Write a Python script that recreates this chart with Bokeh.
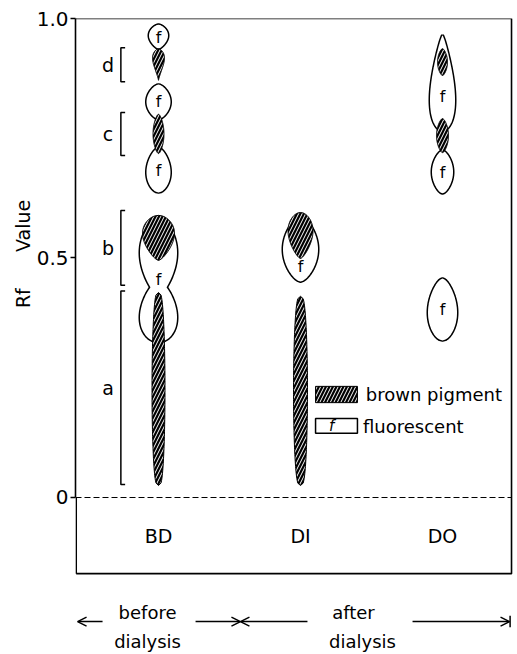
import numpy as np
from bokeh.plotting import figure
from bokeh.models import Range1d, FixedTicker, Arrow, OpenHead, Title
from bokeh.core.properties import value
from bokeh.embed import file_html
from bokeh.resources import INLINE

FONT = "DejaVu Sans"

# lanes (samples)
lanes = ["BD", "DI", "DO"]
lane_pos = {"BD": 1, "DI": 2, "DO": 3}

# fluorescent spots: lane, Rf low, Rf high, spot width (px)
f_lane = ["BD", "BD", "BD", "BD", "BD", "DI", "DO", "DO", "DO"]
f_rf_low = [0.937, 0.790, 0.637, 0.420, 0.325, 0.451, 0.766, 0.635, 0.328]
f_rf_high = [0.987, 0.862, 0.730, 0.585, 0.452, 0.585, 0.965, 0.724, 0.457]
f_width = [19, 24, 24, 37, 37, 35, 25, 21, 29]
f_shape_p = [0.6, 0.6, 0.6, 0.6, 0.6, 0.6, 0.8, 0.6, 0.6]
f_shape_peak = [0.55, 0.5, 0.45, 0.55, 0.4, 0.5, 0.32, 0.5, 0.45]

# "f" marks
f_label_lane = ["BD", "BD", "BD", "BD", "DI", "DO", "DO", "DO"]
f_label_rf = [0.961, 0.826, 0.683, 0.455, 0.482, 0.838, 0.678, 0.392]

# brown pigment spots
h_lane = ["BD", "BD", "BD", "BD", "DI", "DI", "DO", "DO"]
h_rf_low = [0.871, 0.718, 0.495, 0.025, 0.499, 0.025, 0.881, 0.720]
h_rf_high = [0.937, 0.800, 0.589, 0.428, 0.595, 0.420, 0.937, 0.791]
h_width = [12, 11, 32, 13, 25, 14, 10, 12]
h_shape_p = [0.6, 0.6, 0.5, 0.3, 0.5, 0.3, 0.6, 0.6]
h_shape_peak = [0.7, 0.5, 0.6, 0.5, 0.6, 0.5, 0.5, 0.5]

# fraction brackets
frac_labels = ["a", "b", "c", "d"]
frac_rf_low = [0.027, 0.443, 0.714, 0.868]
frac_rf_high = [0.431, 0.599, 0.804, 0.939]

y_ticks = [0, 0.5, 1.0]
y_tick_labels = ["0", "0.5", "1.0"]
y_title = "Rf" + "\u00a0" * 6 + "Value"

PX = 142.0  # pixels per lane unit


def spot(lane, lo, hi, width_px, pw, peak):
    s = np.linspace(0, 1, 80)
    a = np.log(0.5) / np.log(peak)
    w = (width_px / 2.0 / PX) * np.sin(np.pi * s ** a) ** pw
    y = lo + s * (hi - lo)
    x0 = lane_pos[lane]
    xs = np.concatenate([x0 + w, (x0 - w)[::-1]])
    ys = np.concatenate([y, y[::-1]])
    return list(xs), list(ys)


X0, X1 = 0.4155, 3.507
p = figure(width=514, height=652, x_range=Range1d(X0, X1),
           y_range=Range1d(-0.3236, 1.0), output_backend="svg",
           toolbar_location=None, x_axis_location=None,
           min_border_left=75, min_border_right=0, min_border_top=18,
           min_border_bottom=0)
p.grid.visible = False
p.outline_line_color = None
p.background_fill_color = "white"

ax = p.yaxis[0]
ax.ticker = FixedTicker(ticks=y_ticks)
ax.major_label_overrides = {t: l for t, l in zip(y_ticks, y_tick_labels)}
ax.bounds = (0.0, 1.0)
ax.minor_tick_line_color = None
ax.major_tick_in = 0
ax.major_tick_out = 5
ax.axis_line_width = 1.6
ax.axis_line_color = "black"
ax.major_tick_line_width = 1.4
ax.major_tick_line_color = "black"
ax.major_label_text_font = FONT
ax.major_label_text_font_size = "20px"
ax.major_label_text_color = "black"
ax.major_label_standoff = 2

# axis title, padded so that it sits level with the upper half of the axis
p.add_layout(Title(text="\u00a0" * 27 + y_title, align="center",
                   text_font=FONT, text_font_size="19px",
                   text_font_style="normal", text_color="black", standoff=0), "left")

# box (left below zero, top, right, bottom)
XR = 3.486
YB = -0.159
XL = X0 + 0.005
p.line([XL, XL], [0.0, YB], line_color="black", line_width=1.6)
p.line([X0, XR, XR, XL], [1.0, 1.0, YB, YB], line_color="black", line_width=1.6)
p.line([X0, XR], [0, 0], line_dash="6 3", line_color="black", line_width=1.2)

# fluorescent spots: outlines then white fills (union outline)
fx, fy = [], []
for i in range(len(f_lane)):
    xs, ys = spot(f_lane[i], f_rf_low[i], f_rf_high[i], f_width[i], f_shape_p[i], f_shape_peak[i])
    fx.append(xs)
    fy.append(ys)
p.patches(fx, fy, fill_color=None, line_color="black", line_width=3)
p.patches(fx, fy, fill_color="white", line_color=None)

# brown pigment spots
hx, hy = [], []
for i in range(len(h_lane)):
    xs, ys = spot(h_lane[i], h_rf_low[i], h_rf_high[i], h_width[i], h_shape_p[i], h_shape_peak[i])
    hx.append(xs)
    hy.append(ys)
p.patches(hx, hy, fill_color="black", line_color="black", line_width=1,
          hatch_pattern="/", hatch_color="white", hatch_scale=7, hatch_weight=1)

p.text(x=[lane_pos[l] for l in f_label_lane], y=f_label_rf, text=["f"] * len(f_label_lane),
       text_align="center", text_baseline="middle", text_font=value(FONT),
       text_font_size="16px", text_color="black")

# brackets
BX = 0.735
HK = 0.03
bx, by = [], []
for lo, hi in zip(frac_rf_low, frac_rf_high):
    bx.append([BX + HK, BX, BX, BX + HK])
    by.append([hi, hi, lo, lo])
p.multi_line(bx, by, line_color="black", line_width=1.5)
p.text(x=[0.645] * 4, y=[(lo + hi) / 2 for lo, hi in zip(frac_rf_low, frac_rf_high)],
       text=frac_labels, text_align="center", text_baseline="middle",
       text_font=value(FONT), text_font_size="19px")

# lane labels
p.text(x=[lane_pos[l] for l in lanes], y=[-0.08] * 3, text=lanes, text_align="center",
       text_baseline="middle", text_font=value(FONT), text_font_size="19px")

# legend
p.quad(left=[2.106], right=[2.401], top=[0.232], bottom=[0.198], fill_color="black",
       line_color="black", line_width=1, hatch_pattern="/", hatch_color="white",
       hatch_scale=7, hatch_weight=1)
p.quad(left=[2.106], right=[2.401], top=[0.165], bottom=[0.134], fill_color="white",
       line_color="black", line_width=1.5)
p.text(x=[2.22], y=[0.150], text=["f"], text_align="center", text_baseline="middle",
       text_font=value(FONT), text_font_size="15px", text_font_style="italic")
p.text(x=[2.46, 2.44], y=[0.215, 0.148], text=["brown  pigment", "fluorescent"],
       text_align="left", text_baseline="middle", text_font=value(FONT), text_font_size="18px")

# below box: before / after dialysis
p.text(x=[0.923, 0.923, 2.373, 2.437], y=[-0.240, -0.300, -0.240, -0.300],
       text=["before", "dialysis", "after", "dialysis"], text_align="center",
       text_baseline="middle", text_font=value(FONT), text_font_size="18px")
YA = -0.259
for xs_, xe_ in [(0.606, 0.43), (1.261, 1.577), (2.049, 1.577), (2.789, 3.472)]:
    p.add_layout(Arrow(end=OpenHead(size=9, line_width=1.5), x_start=xs_, y_start=YA,
                       x_end=xe_, y_end=YA, line_width=1.5))
p.line([3.476, 3.476], [YA - 0.012, YA + 0.012], line_color="black", line_width=1.5)

open("out.html", "w").write(file_html(p, INLINE))
